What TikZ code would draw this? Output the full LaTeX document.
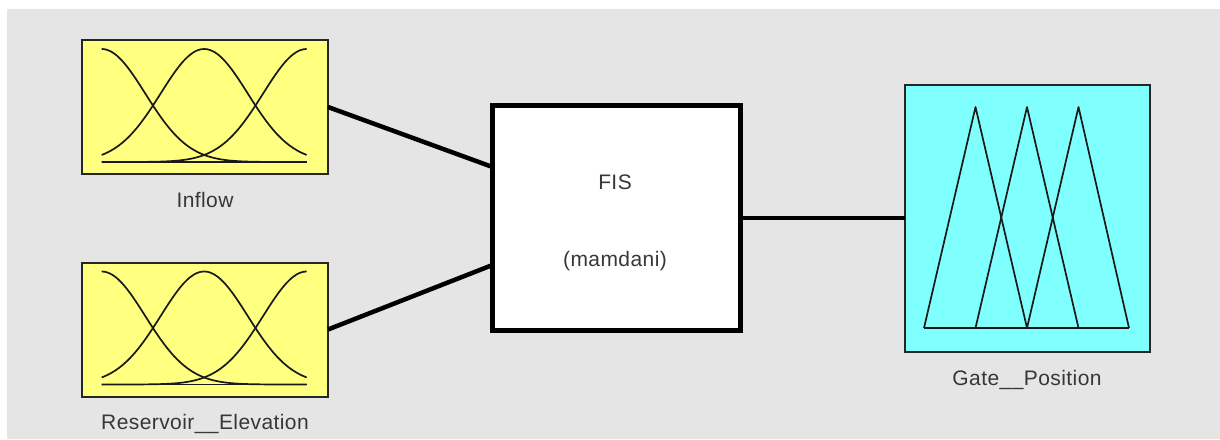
\documentclass[tikz,border=0pt]{standalone}
\usepackage{fontspec}
\setmainfont{Liberation Sans}[LetterSpace=2]
\definecolor{bg}{RGB}{229,229,229}
\definecolor{mfyellow}{RGB}{255,255,128}
\definecolor{mfcyan}{RGB}{128,255,255}
\definecolor{txt}{RGB}{55,55,55}
\begin{document}
\begin{tikzpicture}[x=1pt,y=-1pt,
 varbox/.style={draw=black!85, line width=2pt, inner sep=0pt, outer sep=0pt, minimum width=246pt, minimum height=134pt, fill=mfyellow},
 outbox/.style={varbox, fill=mfcyan, minimum width=245pt, minimum height=267pt},
 fisbox/.style={draw=black, line width=5pt, fill=white, inner sep=0pt, outer sep=0pt, minimum width=248pt, minimum height=225pt},
 lbl/.style={text=txt, font=\fontsize{21}{25}\selectfont, anchor=base, inner sep=0pt},
 wire/.style={line width=4.5pt, black},
 mf/.style={line width=1.7pt, black!90, line join=round}]

\useasboundingbox (0,0) rectangle (1220,439);
\fill[bg] (7,9) rectangle (1220,439);

% boxes
\node[varbox] (inflow) at (205,107) {};
\node[varbox] (res) at (205,329.5) {};
\node[fisbox] (fis) at (616.5,218) {};
\node[outbox] (gate) at (1027.5,218) {};

% gaussian membership functions
\foreach \nd in {inflow,res}{
\begin{scope}[shift={(\nd.center)}]
  \foreach \c in {0,0.5,1}{
    \draw[mf] plot[domain=0:1,samples=61,smooth] ({-103.3+205*\x},{55-113*exp(-((\x-\c)*(\x-\c))/0.09014)});
  }
  \draw[mf] (-103.3,55) -- (101.7,55);
\end{scope}
}

% triangular membership functions
\begin{scope}[shift={(gate.center)}]
  \draw[mf] (-103.5,110) -- (-52,-111) -- (-0.5,110);
  \draw[mf] (-52,110) -- (-0.5,-111) -- (51,110);
  \draw[mf] (-0.5,110) -- (51,-111) -- (101.5,110);
  \draw[mf] (-103.5,110) -- (101.5,110);
\end{scope}

% connectors
\draw[wire] (inflow.east) -- ([yshift=51pt]fis.west);
\draw[wire] (res.east) -- ([yshift=-47pt]fis.west);
\draw[wire] (fis.east) -- (gate.west);

% labels
\node[lbl] (inflowlbl) at (205,207) {Inflow};
\node[lbl] (reslbl) at (205,429) {Reservoir\_\_Elevation};
\node[lbl] (gatelbl) at (1027,385) {Gate\_\_Position};
\node[lbl] (fislbl) at (615,189) {FIS};
\node[lbl] (typelbl) at (615,266) {(mamdani)};
\end{tikzpicture}
\end{document}
